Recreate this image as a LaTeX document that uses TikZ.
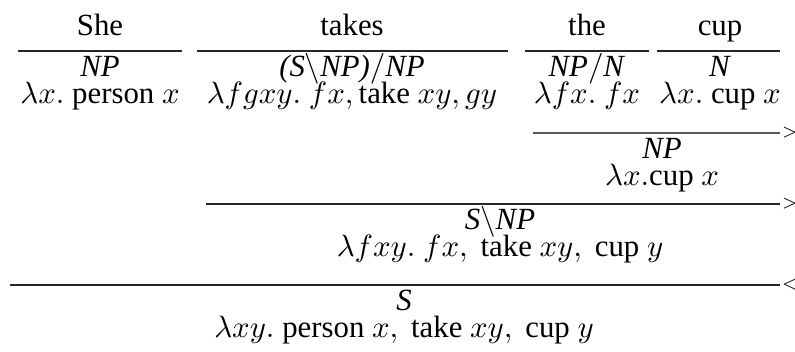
\documentclass[tikz,border=0pt]{standalone}
\usepackage{fontspec}
\setmainfont{Liberation Serif}
\begin{document}
\begin{tikzpicture}[x=0.3246pt,y=-0.3246pt,
  txt/.style={anchor=base,inner sep=0pt,font=\fontsize{10}{12}\selectfont},
  bar/.style={line width=0.45pt,draw=black!85},
  tipmark/.style={anchor=west,inner sep=0.2pt,font=\tiny}]
\useasboundingbox (0,0) rectangle (795,351);
% words
\node[txt] (w1) at (100,35) {She};
\node[txt] (w2) at (352,35) {takes};
\node[txt] (w3) at (587,35) {the};
\node[txt] (w4) at (720,35) {cup};
% lexical bars
\coordinate (a1) at (18,51);  \coordinate (b1) at (182,51);
\coordinate (a2) at (197,51); \coordinate (b2) at (508,51);
\coordinate (a3) at (525,51); \coordinate (b3) at (649,51);
\coordinate (a4) at (657,51); \coordinate (b4) at (780,51);
\draw[bar] (a1) -- (b1);
\draw[bar] (a2) -- (b2);
\draw[bar] (a3) -- (b3);
\draw[bar] (a4) -- (b4);
% categories
\node[txt] (c1) at (100,76) {\textit{NP}};
\node[txt] (c2) at (352,76) {\textit{(S}$\backslash$\textit{NP)}$/$\textit{NP}};
\node[txt] (c3) at (587,76) {\textit{NP}$/$\textit{N}};
\node[txt] (c4) at (720,76) {\textit{N}};
% semantics
\node[txt] (s1) at (100,103) {$\lambda x.$ person $x$};
\node[txt] (s2) at (352,103) {$\lambda fgxy.\ fx,\mbox{take}\ xy, gy$};
\node[txt] (s3) at (587,103) {$\lambda fx.\ fx$};
\node[txt] (s4) at (720,103) {$\lambda x.$ cup $x$};
% NP combination
\coordinate (p1) at (533,133); \coordinate (q1) at (780,133);
\draw[bar,draw=black!65] (p1) -- (q1);
\node[tipmark] (t1) at (q1) {$>$};
\node[txt] (c5) at (662,158) {\textit{NP}};
\node[txt] (s5) at (662,185) {$\lambda x.$cup $x$};
% S\NP combination
\coordinate (p2) at (206,204); \coordinate (q2) at (780,204);
\draw[bar] (p2) -- (q2);
\node[tipmark] (t2) at (q2) {$>$};
\node[txt] (c6) at (500,229) {\textit{S}$\backslash$\textit{NP}};
\node[txt] (s6) at (500,256) {$\lambda fxy.\ fx,\ \mbox{take}\ xy,\ \mbox{cup}\ y$};
% S combination
\coordinate (p3) at (10,285); \coordinate (q3) at (780,285);
\draw[bar] (p3) -- (q3);
\node[tipmark] (t3) at (q3) {$<$};
\node[txt] (c7) at (404,310) {\textit{S}};
\node[txt] (s7) at (404,337) {$\lambda xy.$ person $x,\ \mbox{take}\ xy,\ \mbox{cup}\ y$};
\end{tikzpicture}
\end{document}
